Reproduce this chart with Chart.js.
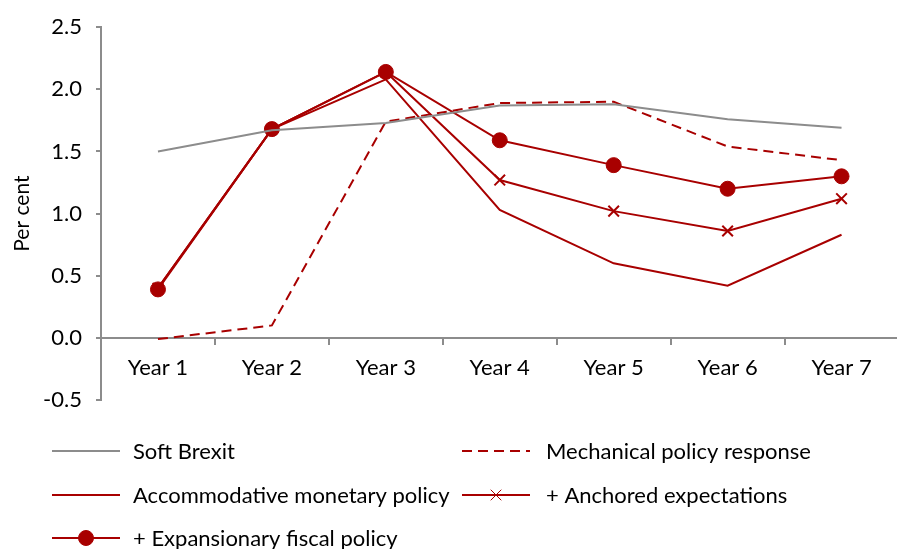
<!DOCTYPE html>
<html><head><meta charset="utf-8">
<script src="https://cdn.jsdelivr.net/npm/chart.js@4.4.1/dist/chart.umd.min.js"></script>
<style>
html,body{margin:0;padding:0;overflow:hidden;background:#fff}
#wrap{width:897px;height:549px;overflow:hidden;position:relative}
canvas{display:block}
</style></head>
<body><div id="wrap"><canvas id="c" width="908" height="549" style="width:908px;height:549px"></canvas></div>
<script>
const categories = ['Year 1','Year 2','Year 3','Year 4','Year 5','Year 6','Year 7'];
const seriesNames = ['Soft Brexit','Mechanical policy response','Accommodative monetary policy','+ Anchored expectations','+ Expansionary fiscal policy'];
const softBrexit = [1.50, 1.67, 1.73, 1.87, 1.88, 1.76, 1.69];
const mechanicalPolicy = [-0.01, 0.10, 1.74, 1.89, 1.90, 1.54, 1.43];
const accommodativeMonetary = [0.40, 1.68, 2.08, 1.03, 0.60, 0.42, 0.83];
const anchoredExpectations = [0.40, 1.68, 2.14, 1.27, 1.02, 0.86, 1.12];
const expansionaryFiscal = [0.39, 1.68, 2.14, 1.59, 1.39, 1.20, 1.30];
const yTicks = [-0.5, 0.0, 0.5, 1.0, 1.5, 2.0, 2.5];

const RED = '#a80000', GREY = '#8c8c8c', AXIS = '#8c8c8c';
const FONT = 'Lato';

const gridLegend = {
  id: 'gridLegend',
  afterDraw(chart, args, opts) {
    const ctx = chart.ctx;
    const ds = chart.data.datasets;
    ctx.save();
    opts.slots.forEach((slot, i) => {
      const d = ds[i];
      const x = slot[0], y = slot[1];
      ctx.save();
      ctx.strokeStyle = d.borderColor;
      ctx.lineWidth = d.borderWidth;
      ctx.setLineDash(d.borderDash || []);
      ctx.beginPath();
      ctx.moveTo(x, y);
      ctx.lineTo(x + opts.swatch, y);
      ctx.stroke();
      ctx.restore();
      if (d.pointRadius > 0) {
        ctx.save();
        ctx.fillStyle = d.pointBackgroundColor;
        ctx.strokeStyle = d.pointBorderColor;
        Chart.helpers.drawPoint(ctx, {pointStyle: d.pointStyle, radius: d.pointRadius, borderWidth: d.pointBorderWidth, rotation: 0}, x + opts.swatch / 2, y);
        ctx.restore();
      }
      ctx.fillStyle = '#000';
      ctx.font = opts.font;
      ctx.textBaseline = 'middle';
      ctx.textAlign = 'left';
      ctx.fillText(d.label, x + slot[2], y + 1);
    });
    ctx.restore();
  }
};

new Chart(document.getElementById('c'), {
  type: 'line',
  data: {
    labels: categories,
    datasets: [
      {label: seriesNames[0], data: softBrexit, borderColor: GREY, borderWidth: 2, pointRadius: 0, tension: 0},
      {label: seriesNames[1], data: mechanicalPolicy, borderColor: RED, borderWidth: 2, borderDash: [10, 6], pointRadius: 0, tension: 0},
      {label: seriesNames[2], data: accommodativeMonetary, borderColor: RED, borderWidth: 2, pointRadius: 0, tension: 0},
      {label: seriesNames[3], data: anchoredExpectations, borderColor: RED, borderWidth: 2, pointStyle: 'crossRot', pointRadius: 7.5, pointBorderWidth: 2, pointBorderColor: RED, pointBackgroundColor: RED, tension: 0},
      {label: seriesNames[4], data: expansionaryFiscal, borderColor: RED, borderWidth: 2, pointStyle: 'circle', pointRadius: 7.5, pointBorderWidth: 1, pointBorderColor: RED, pointBackgroundColor: RED, tension: 0}
    ]
  },
  options: {
    responsive: false,
    animation: false,
    layout: {padding: {top: 25, bottom: 149, left: 0, right: 0}},
    plugins: {
      legend: {display: false},
      tooltip: {enabled: false},
      gridLegend: {
        slots: [[52, 451, 81], [462, 451, 84], [52, 495, 81], [462, 495, 84], [52, 538, 81]],
        swatch: 68,
        font: '22px ' + FONT
      }
    },
    scales: {
      x: {
        type: 'category',
        position: {y: 0},
        offset: true,
        grid: {offset: true, drawOnChartArea: false, drawTicks: true, tickLength: 6, color: AXIS, lineWidth: 2},
        border: {display: true, color: AXIS, width: 2},
        ticks: {color: '#000', font: {family: FONT, size: 22}, padding: 11, maxRotation: 0, autoSkip: false}
      },
      y: {
        min: -0.5, max: 2.5,
        afterBuildTicks: s => { s.ticks = yTicks.map(v => ({value: v})); },
        afterFit: s => { s.width = 101; },
        grid: {drawOnChartArea: false, drawTicks: true, tickLength: 5, color: AXIS, lineWidth: 2},
        border: {display: true, color: AXIS, width: 2},
        ticks: {color: '#000', font: {family: FONT, size: 22}, padding: 14, callback: v => Number(v).toFixed(1)},
        title: {display: true, text: 'Per cent', color: '#000', font: {family: FONT, size: 21}, padding: {top: 10, bottom: 0}}
      }
    }
  },
  plugins: [gridLegend]
});
</script>
</body></html>
